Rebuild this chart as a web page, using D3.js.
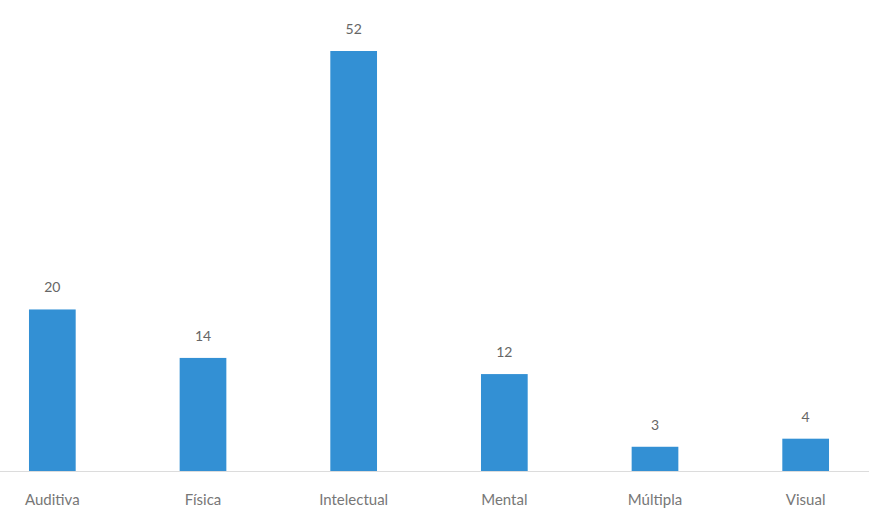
<!DOCTYPE html>
<html>
<head>
<meta charset="utf-8">
<script src="https://cdnjs.cloudflare.com/ajax/libs/d3/7.8.5/d3.min.js"></script>
<style>
  body { margin: 0; background: #fff; }
  text { font-family: Lato, "Open Sans", sans-serif; fill: #666; }
</style>
</head>
<body>
<svg width="869" height="511"></svg>
<script>
var categories = ['Auditiva', 'Física', 'Intelectual', 'Mental', 'Múltipla', 'Visual'];
var values = [20, 14, 52, 12, 3, 4];

var svg = d3.select('svg');
var baseY = 471;

var xScale = d3.scaleBand()
    .domain(categories)
    .range([-23, 881])
    .paddingInner(0.69)
    .paddingOuter(0.345);

var yScale = d3.scaleLinear()
    .domain([0, 52])
    .range([baseY, 51]);

var data = categories.map(function(c, i) { return {cat: c, val: values[i]}; });

// baseline
svg.append('line')
    .attr('x1', 0).attr('x2', 869)
    .attr('y1', baseY + 0.5).attr('y2', baseY + 0.5)
    .attr('stroke', '#dcdcdc')
    .attr('stroke-width', 1);

svg.selectAll('.bar')
    .data(data)
    .enter()
    .append('rect')
    .attr('class', 'bar')
    .attr('x', function(d) { return xScale(d.cat); })
    .attr('width', xScale.bandwidth())
    .attr('y', function(d) { return yScale(d.val); })
    .attr('height', function(d) { return baseY - yScale(d.val); })
    .attr('fill', '#3390d4');

svg.selectAll('.val')
    .data(data)
    .enter()
    .append('text')
    .attr('class', 'val')
    .attr('x', function(d) { return xScale(d.cat) + xScale.bandwidth() / 2; })
    .attr('y', function(d) { return yScale(d.val) - 17; })
    .attr('text-anchor', 'middle')
    .style('font-size', '14px')
    .text(function(d) { return d.val; });

var xAxis = d3.axisBottom(xScale).tickSize(0).tickPadding(0);
var axisG = svg.append('g')
    .attr('transform', 'translate(0,' + baseY + ')')
    .call(xAxis);
axisG.select('.domain').remove();
axisG.selectAll('text')
    .attr('dy', 0)
    .attr('y', 34)
    .style('font-size', '15px')
    .style('fill', '#777');
</script>
</body>
</html>
